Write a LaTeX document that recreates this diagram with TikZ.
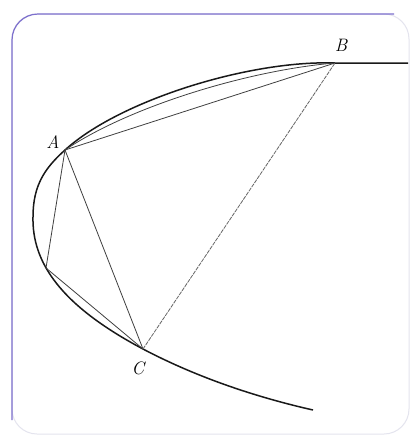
\documentclass[tikz,border=0pt]{standalone}
\usepackage{tikz}
\definecolor{framecol}{RGB}{125,112,205}
\definecolor{framefaint}{RGB}{228,228,238}
\tikzset{
  curveline/.style={line width=1.5pt, black!90},
  chord/.style={line width=0.8pt, black!75},
  faintchord/.style={line width=0.8pt, black!60, dash pattern=on 4pt off 1pt},
  ptlabel/.style={font=\fontsize{18}{18}\selectfont\itshape, inner sep=0pt}
}
\begin{document}
\begin{tikzpicture}[x=1pt,y=-1pt]
\useasboundingbox (0,0) rectangle (420,440);
\fill[white] (0,0) rectangle (420,440);
% frame
\draw[framefaint, line width=1pt, rounded corners=25pt] (12,14) rectangle (409,434);
\draw[framecol, line width=1.2pt, rounded corners=26pt] (12,420) -- (12,14) -- (394,14);
% points
\coordinate (A) at (65,150);
\coordinate (B) at (335,63);
\coordinate (C) at (143,349);
\coordinate (L) at (33,217);
\coordinate (D) at (46,268);
\coordinate (E) at (313,410);
\coordinate (R) at (408,63);
% parabola-like curve
\draw[curveline] (R) -- (B) .. controls (250,60) and (120,100) .. (A)
  .. controls (45,168) and (33,185) .. (L)
  .. controls (32,262) and (60,305) .. (C)
  .. controls (200,379) and (260,398) .. (E);
% chords
\draw[chord] (A) .. controls (130,106) and (250,70) .. (B);
\draw[chord] (A) -- (B);
\draw[chord] (A) -- (D) -- (C);
\draw[chord] (A) -- (C);
\draw[faintchord] (C) -- (B);
% labels
\node[ptlabel] (lA) at (53,142) {A};
\node[ptlabel] (lB) at (341,45) {B};
\node[ptlabel] (lC) at (138,368) {C};
\end{tikzpicture}
\end{document}
